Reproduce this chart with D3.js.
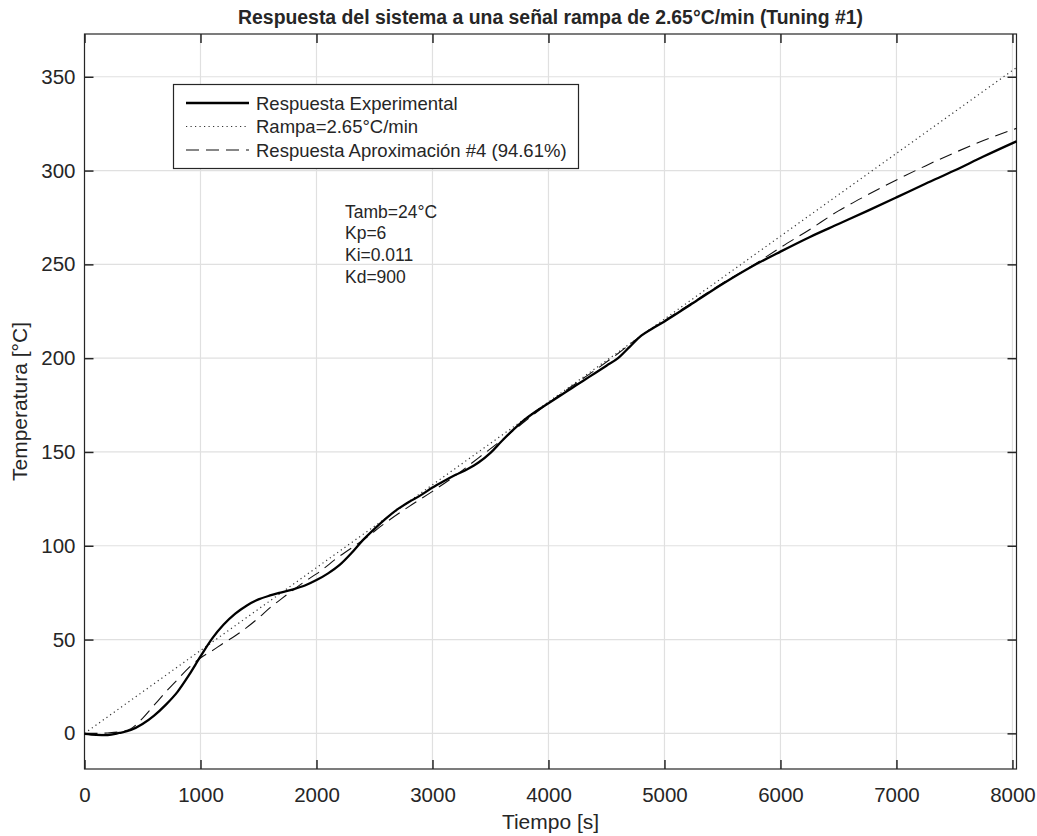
<!DOCTYPE html>
<html>
<head>
<meta charset="utf-8">
<script src="https://cdn.jsdelivr.net/npm/d3@7"></script>
<style>
  body { margin: 0; background: #fff; }
  text { font-family: "Liberation Sans", Arial, sans-serif; fill: #262626; }
</style>
</head>
<body>
<div id="chart"></div>
<script>
// datos
const timeExp = [0,100,200,300,400,500,600,700,800,900,1000,1100,1200,1300,1400,1500,1600,1700,1800,1900,
  2000,2100,2200,2300,2400,2500,2600,2700,2800,2900,3000,3100,3200,3300,3400,3500,3600,3700,3800,3900,
  4000,4100,4200,4300,4400,4500,4600,4700,4800,4900,5000,5250,5500,5750,6000,6250,6500,6750,7000,7250,7500,7750,8035];
const tempExp = [-0.3,-0.8,-0.9,0.2,1.8,5,9.5,15.2,22,31,41,50.5,58,63.8,68.2,71.4,73.5,75.2,76.8,78.8,
  81.7,85.3,89.8,96,103,109,114.6,119.5,123.5,127,131,134.5,137.8,140.8,144.5,149.5,156,162,167.5,172,
  176,180,184,188,192,196,200,206,212,216,219.6,229.5,239.5,248.7,256.8,264.5,271.5,278.5,285.7,293,300,307.5,315.6];

const timeAprox = [0,100,200,300,400,500,600,700,800,900,1000,1100,1200,1300,1400,1500,1600,1700,1800,1900,
  2000,2200,2400,2600,2800,3000,3200,3400,3600,3800,4000,4200,4400,4600,4800,5000,5250,5500,5750,6000,
  6250,6500,6750,7000,7250,7500,7750,8035];
const tempAprox = [0,0,0.2,0.8,2.5,8,15,22,28.5,35,40.2,44,48.2,52,56.5,61.5,67,71.8,76.5,81,
  85,94.5,103,112.5,121,129,137.5,147,156.5,166.5,176,185,193.5,202.5,212,220,230,240,249,259,
  268.5,278.5,287,295,302.5,309.5,316,322.5];

const timeRampa = [0, 8035];
const tempRampa = [0, 354.9];

const xTicks = [0,1000,2000,3000,4000,5000,6000,7000,8000];
const yTicks = [0,50,100,150,200,250,300,350];

const legendLabels = ['Respuesta Experimental', 'Rampa=2.65°C/min', 'Respuesta Aproximación #4 (94.61%)'];
const notes = ['Tamb=24°C', 'Kp=6', 'Ki=0.011', 'Kd=900'];

const width = 1037;
const height = 836;
const box = { left: 84.5, right: 1016.5, top: 34, bottom: 769 };

const svg = d3.select('div#chart').append('svg').attr('width', width).attr('height', height);

const x = d3.scaleLinear().domain([0, 8035]).range([box.left, box.right]);
const y = d3.scaleLinear().domain([-19, 372.8]).range([box.bottom, box.top]);

// rejilla
const grid = svg.append('g').attr('class', 'grid');
grid.selectAll('line.vx').data(xTicks).enter().append('line')
  .attr('x1', d => x(d)).attr('x2', d => x(d))
  .attr('y1', box.top).attr('y2', box.bottom)
  .attr('stroke', '#e0e0e0').attr('stroke-width', 1.2);
grid.selectAll('line.hy').data(yTicks).enter().append('line')
  .attr('y1', d => y(d)).attr('y2', d => y(d))
  .attr('x1', box.left).attr('x2', box.right)
  .attr('stroke', '#e0e0e0').attr('stroke-width', 1.2);

// ejes (ticks hacia dentro, caja completa)
const tk = 9;
const xAxisB = d3.axisBottom(x).tickValues(xTicks).tickSizeInner(-tk).tickSizeOuter(0).tickPadding(18).tickFormat(d3.format('d'));
const xAxisT = d3.axisTop(x).tickValues(xTicks).tickSizeInner(-tk).tickSizeOuter(0).tickFormat('');
const yAxisL = d3.axisLeft(y).tickValues(yTicks).tickSizeInner(-tk).tickSizeOuter(0).tickPadding(9).tickFormat(d3.format('d'));
const yAxisR = d3.axisRight(y).tickValues(yTicks).tickSizeInner(-tk).tickSizeOuter(0).tickFormat('');

const axes = svg.append('g').attr('class', 'axes');
axes.append('g').attr('transform', `translate(0,${box.bottom})`).call(xAxisB);
axes.append('g').attr('transform', `translate(0,${box.top})`).call(xAxisT);
axes.append('g').attr('transform', `translate(${box.left},0)`).call(yAxisL);
axes.append('g').attr('transform', `translate(${box.right},0)`).call(yAxisR);
axes.selectAll('.domain').remove();
axes.selectAll('.tick line').attr('stroke', '#262626').attr('stroke-width', 1.5);
axes.selectAll('.tick text').attr('font-size', 20.5).attr('fill', '#262626')
  .style('font-family', '"Liberation Sans", Arial, sans-serif');

svg.append('rect')
  .attr('x', box.left).attr('y', box.top)
  .attr('width', box.right - box.left).attr('height', box.bottom - box.top)
  .attr('fill', 'none').attr('stroke', '#262626').attr('stroke-width', 1.2);

// curvas
const plot = svg.append('g').attr('class', 'plot');
const line = d3.line().x(d => x(d[0])).y(d => y(d[1])).curve(d3.curveMonotoneX);

plot.append('path')
  .datum(d3.zip(timeRampa, tempRampa))
  .attr('d', line)
  .attr('fill', 'none').attr('stroke', '#333').attr('stroke-width', 1.2)
  .attr('stroke-dasharray', '1.2,3.3');

plot.append('path')
  .datum(d3.zip(timeAprox, tempAprox))
  .attr('d', line)
  .attr('fill', 'none').attr('stroke', '#111').attr('stroke-width', 1.1)
  .attr('stroke-dasharray', '13,7');

plot.append('path')
  .datum(d3.zip(timeExp, tempExp))
  .attr('d', line)
  .attr('fill', 'none').attr('stroke', '#000').attr('stroke-width', 2.3);

// textos
svg.append('text').attr('x', (box.left + box.right) / 2).attr('y', 24)
  .attr('text-anchor', 'middle').attr('font-size', 19.4).attr('font-weight', 'bold').attr('fill', '#000')
  .text('Respuesta del sistema a una señal rampa de 2.65°C/min (Tuning #1)');

svg.append('text').attr('x', (box.left + box.right) / 2).attr('y', 829)
  .attr('text-anchor', 'middle').attr('font-size', 21)
  .text('Tiempo [s]');

svg.append('text').attr('transform', `translate(27,${(box.top + box.bottom) / 2}) rotate(-90)`)
  .attr('text-anchor', 'middle').attr('font-size', 21)
  .text('Temperatura [°C]');

const noteG = svg.append('g').attr('class', 'notes');
noteG.selectAll('text').data(notes).enter().append('text')
  .attr('x', 345).attr('y', (d, i) => 217.5 + i * 21.7)
  .attr('font-size', 17.5).attr('fill', '#000')
  .text(d => d);

// leyenda
const legend = svg.append('g').attr('class', 'legend');
legend.append('rect').attr('x', 173.5).attr('y', 84.5).attr('width', 405).attr('height', 84)
  .attr('fill', '#fff').attr('stroke', '#262626').attr('stroke-width', 1.2);
const styles = [
  { w: 2.3, dash: null, c: '#000' },
  { w: 1.2, dash: '1.2,3.3', c: '#333' },
  { w: 1.1, dash: '13,7', c: '#111' }
];
legendLabels.forEach((lab, i) => {
  const ly = 103 + i * 23.5;
  const s = styles[i];
  const l = legend.append('line').attr('x1', 186).attr('x2', 249).attr('y1', ly).attr('y2', ly)
    .attr('stroke', s.c).attr('stroke-width', s.w);
  if (s.dash) l.attr('stroke-dasharray', s.dash);
  legend.append('text').attr('x', 256).attr('y', ly + 6.5).attr('font-size', 18.5).attr('fill', '#000').text(lab);
});
</script>
</body>
</html>
